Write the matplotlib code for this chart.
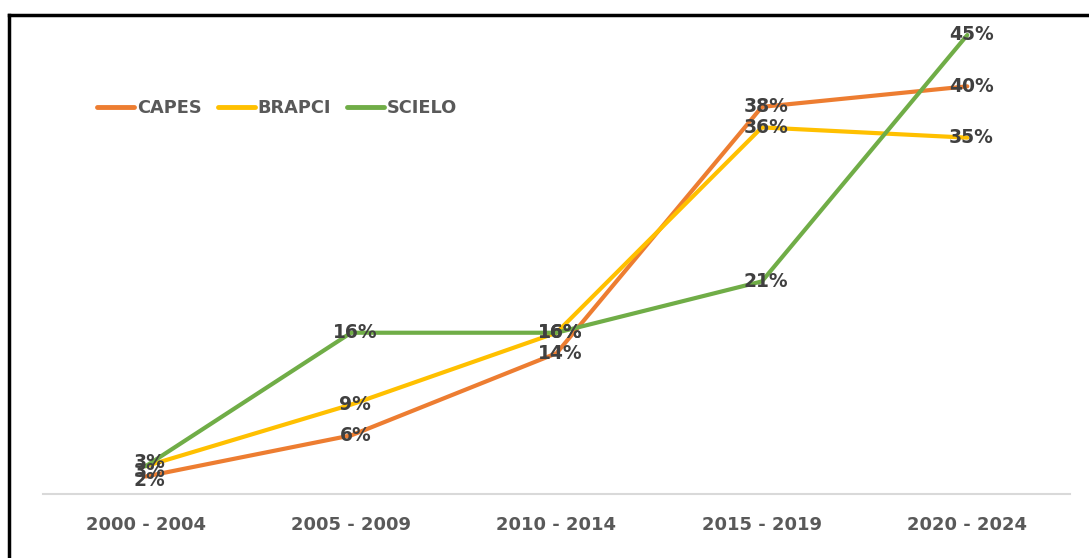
import matplotlib
matplotlib.use("Agg")
import matplotlib.pyplot as plt
from matplotlib.lines import Line2D

categories = ["2000 - 2004", "2005 - 2009", "2010 - 2014", "2015 - 2019", "2020 - 2024"]
capes = [2, 6, 14, 38, 40]
brapci = [3, 9, 16, 36, 35]
scielo = [3, 16, 16, 21, 45]
series_names = ["CAPES", "BRAPCI", "SCIELO"]
colors = ["#ED7D31", "#FFC000", "#70AD47"]

W, H = 1089, 558
fig = plt.figure(figsize=(W / 100, H / 100), dpi=100)
fig.patch.set_facecolor("white")

ax = fig.add_axes([43 / W, (H - 497) / H, (1070 - 43) / W, (497 - 35) / H])
for s in ["top", "right", "left"]:
    ax.spines[s].set_visible(False)
ax.spines["bottom"].set_position(("outward", -2))
ax.spines["bottom"].set_color("#D9D9D9")
ax.spines["bottom"].set_linewidth(1.5)

x = list(range(len(categories)))
data = [capes, brapci, scielo]
for vals, name, c in zip(data, series_names, colors):
    ax.plot(x, vals, color=c, lw=3.0, label=name, clip_on=False, solid_capstyle="round", zorder=2)

# data labels (small offsets in points to mimic overlaps in the reference)
offsets = {
    ("BRAPCI", 0): 3, ("SCIELO", 0): -4, ("CAPES", 0): -3,
}
for vals, name in zip(data, series_names):
    for i, v in enumerate(vals):
        dy = offsets.get((name, i), 0)
        ax.annotate(f"{v}%", (i, v), xytext=(3, dy), textcoords="offset points",
                    ha="center", va="center", fontsize=13.5, fontweight="bold",
                    color="#404040", zorder=3, annotation_clip=False)

ax.set_xlim(-0.5, 4.5)
ax.set_ylim(0, 45)
ax.tick_params(axis="x", length=0, pad=16)
ax.set_xticks(x, categories, fontsize=13, fontweight="bold", color="#595959")
ax.set_yticks([])

leg = ax.legend(ncol=3, frameon=False, loc="center left",
                bbox_to_anchor=(88 / W, (H - 108) / H), bbox_transform=fig.transFigure,
                handlelength=2.1, handletextpad=0.15, columnspacing=0.9, borderpad=0,
                prop={"size": 12.8, "weight": "bold"})
for t in leg.get_texts():
    t.set_color("#595959")
for h in leg.get_lines():
    h.set_linewidth(3.5)

# black frame lines (left and top)
fig.add_artist(Line2D([9 / W, 9 / W], [0, (H - 15) / H], color="black", lw=2.5, transform=fig.transFigure))
fig.add_artist(Line2D([9 / W, 1], [(H - 15) / H, (H - 15) / H], color="black", lw=2.5, transform=fig.transFigure))

fig.savefig("out.png", dpi=100)
